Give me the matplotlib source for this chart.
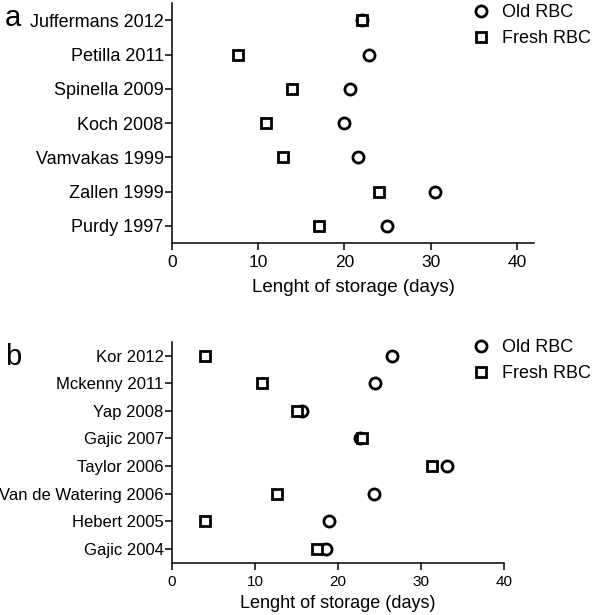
import matplotlib.pyplot as plt
import numpy as np

plt.rcParams['font.family'] = ['Liberation Sans', 'DejaVu Sans']

# panel a
studies_a = ['Juffermans 2012', 'Petilla 2011', 'Spinella 2009', 'Koch 2008',
             'Vamvakas 1999', 'Zallen 1999', 'Purdy 1997']
old_a = [22.0, 22.8, 20.6, 20.0, 21.6, 30.5, 25.0]
fresh_a = [22.0, 7.6, 13.9, 10.9, 12.9, 24.0, 17.0]

# panel b
studies_b = ['Kor 2012', 'Mckenny 2011', 'Yap 2008', 'Gajic 2007', 'Taylor 2006',
             'Van de Watering 2006', 'Hebert 2005', 'Gajic 2004']
old_b = [26.5, 24.5, 15.7, 22.7, 33.1, 24.3, 18.9, 18.5]
fresh_b = [4.0, 10.9, 15.1, 22.9, 31.3, 12.7, 4.0, 17.5]

xticks = [0, 10, 20, 30, 40]

fig = plt.figure(figsize=(6, 6.15), dpi=100)
ax_a = fig.add_axes([0.2867, 0.6049, 0.6033, 0.390])
ax_b = fig.add_axes([0.2867, 0.0850, 0.5533, 0.3593])


def draw_panel(ax, names, old, fresh, xmax, ylab_size, xt_size, xl_size, xl_pad, leg_y, leg_space):
    pos = np.arange(len(names))[::-1]
    ax.plot(old, pos, 'o', ls='none', ms=8, mfc='white', mec='black', mew=2, label='Old RBC',
            clip_on=False, zorder=3)
    ax.plot(fresh, pos, 's', ls='none', ms=7.5, mfc='white', mec='black', mew=2, label='Fresh RBC',
            clip_on=False, zorder=4)
    ax.set_yticks(pos)
    ax.set_yticklabels(names, fontsize=ylab_size)
    ax.set_ylim(-0.5, len(names) - 0.5)
    ax.set_xlim(0, xmax)
    ax.set_xticks(xticks)
    ax.tick_params(axis='x', labelsize=xt_size, length=5, width=1.1, pad=4)
    ax.tick_params(axis='y', length=5, width=1.1, pad=1)
    ax.set_xlabel('Lenght of storage (days)', fontsize=xl_size, labelpad=xl_pad)
    for s in ['top', 'right']:
        ax.spines[s].set_visible(False)
    for s in ['left', 'bottom']:
        ax.spines[s].set_linewidth(1.1)
    ax.legend(loc='upper left', bbox_to_anchor=(0.792, leg_y), bbox_transform=fig.transFigure,
              frameon=False, fontsize=13, handlelength=0.6, handletextpad=0.9,
              borderpad=0, borderaxespad=0, labelspacing=leg_space, markerscale=1.0)


draw_panel(ax_a, studies_a, old_a, fresh_a, 42, 13, 12.5, 13.5, 6, 0.993, 0.5)
draw_panel(ax_b, studies_b, old_b, fresh_b, 40, 12, 11, 13, 4, 0.449, 0.52)

fig.text(0.008, 0.97, 'a', fontsize=21, va='center')
fig.text(0.008, 0.42, 'b', fontsize=21, va='center')

fig.savefig('out.png', dpi=100)
